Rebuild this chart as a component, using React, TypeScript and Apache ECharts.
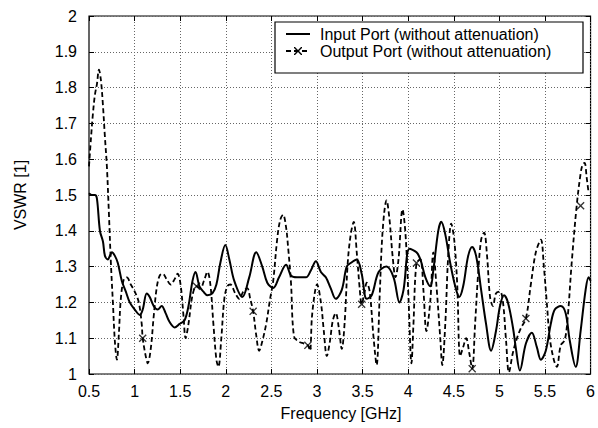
import React, { useEffect, useRef } from "react";
import * as echarts from "echarts";

// Frequency (GHz) / VSWR readings
const inputFreq = [0.5, 0.533, 0.565, 0.587, 0.62, 0.653, 0.675, 0.707, 0.729, 0.751, 0.784, 0.816, 0.86, 0.904, 0.947, 1.002, 1.057, 1.089, 1.133, 1.166, 1.209, 1.253, 1.297, 1.34, 1.384, 1.439, 1.493, 1.548, 1.591, 1.635, 1.668, 1.711, 1.755, 1.799, 1.853, 1.897, 1.94, 1.995, 2.039, 2.093, 2.181, 2.257, 2.334, 2.4, 2.455, 2.52, 2.584, 2.661, 2.715, 2.781, 2.879, 2.934, 2.988, 3.043, 3.097, 3.15, 3.206, 3.272, 3.326, 3.37, 3.436, 3.49, 3.545, 3.6, 3.676, 3.763, 3.84, 3.905, 3.949, 4.015, 4.091, 4.134, 4.189, 4.243, 4.276, 4.33, 4.363, 4.407, 4.461, 4.516, 4.56, 4.603, 4.658, 4.702, 4.745, 4.8, 4.854, 4.909, 4.963, 5.007, 5.051, 5.094, 5.149, 5.182, 5.225, 5.291, 5.356, 5.411, 5.455, 5.509, 5.564, 5.608, 5.673, 5.727, 5.771, 5.837, 5.891, 5.946, 5.979, 6.0];
const inputVswr = [1.505, 1.5, 1.5, 1.49, 1.4, 1.37, 1.33, 1.32, 1.33, 1.34, 1.33, 1.31, 1.26, 1.23, 1.2, 1.18, 1.165, 1.18, 1.225, 1.215, 1.19, 1.18, 1.19, 1.17, 1.145, 1.13, 1.14, 1.15, 1.19, 1.26, 1.285, 1.245, 1.23, 1.22, 1.225, 1.25, 1.31, 1.36, 1.32, 1.26, 1.215, 1.27, 1.34, 1.3, 1.255, 1.24, 1.27, 1.305, 1.275, 1.27, 1.27, 1.29, 1.315, 1.285, 1.27, 1.24, 1.21, 1.235, 1.3, 1.31, 1.32, 1.28, 1.21, 1.22, 1.285, 1.3, 1.27, 1.2, 1.235, 1.35, 1.34, 1.32, 1.27, 1.245, 1.29, 1.4, 1.425, 1.39, 1.31, 1.245, 1.215, 1.245, 1.33, 1.355, 1.33, 1.235, 1.14, 1.065, 1.12, 1.19, 1.22, 1.2, 1.13, 1.07, 1.01, 1.085, 1.115, 1.075, 1.04, 1.065, 1.14, 1.18, 1.19, 1.17, 1.095, 1.02, 1.12, 1.235, 1.27, 1.26];

const outputFreq = [0.5, 0.522, 0.544, 0.565, 0.587, 0.609, 0.631, 0.653, 0.675, 0.696, 0.718, 0.74, 0.762, 0.784, 0.806, 0.827, 0.849, 0.882, 0.915, 0.958, 1.002, 1.046, 1.078, 1.089, 1.122, 1.144, 1.177, 1.209, 1.242, 1.275, 1.308, 1.351, 1.395, 1.439, 1.471, 1.504, 1.537, 1.559, 1.591, 1.635, 1.679, 1.722, 1.766, 1.799, 1.831, 1.864, 1.897, 1.919, 1.951, 1.984, 2.017, 2.05, 2.104, 2.148, 2.191, 2.235, 2.268, 2.3, 2.333, 2.366, 2.399, 2.443, 2.486, 2.52, 2.563, 2.596, 2.628, 2.661, 2.683, 2.715, 2.748, 2.803, 2.857, 2.9, 2.923, 2.945, 2.978, 3.0, 3.043, 3.075, 3.108, 3.141, 3.174, 3.206, 3.239, 3.272, 3.305, 3.337, 3.37, 3.403, 3.436, 3.468, 3.49, 3.523, 3.545, 3.578, 3.621, 3.654, 3.687, 3.72, 3.763, 3.796, 3.829, 3.861, 3.894, 3.938, 3.971, 4.004, 4.036, 4.058, 4.091, 4.134, 4.167, 4.2, 4.243, 4.276, 4.309, 4.352, 4.374, 4.407, 4.439, 4.472, 4.505, 4.538, 4.57, 4.603, 4.636, 4.669, 4.702, 4.734, 4.767, 4.8, 4.833, 4.865, 4.898, 4.93, 4.963, 5.007, 5.04, 5.073, 5.105, 5.149, 5.193, 5.24, 5.291, 5.345, 5.4, 5.455, 5.488, 5.52, 5.553, 5.597, 5.63, 5.673, 5.717, 5.75, 5.793, 5.848, 5.891, 5.913, 5.935, 5.957, 5.979, 6.0];
const outputVswr = [1.58, 1.66, 1.73, 1.78, 1.81, 1.85, 1.82, 1.75, 1.66, 1.58, 1.45, 1.31, 1.2, 1.09, 1.04, 1.11, 1.21, 1.265, 1.27, 1.25, 1.23, 1.2, 1.14, 1.1, 1.05, 1.03, 1.07, 1.16, 1.24, 1.275, 1.28, 1.265, 1.25, 1.265, 1.28, 1.25, 1.16, 1.1, 1.14, 1.22, 1.245, 1.24, 1.265, 1.285, 1.25, 1.14, 1.04, 1.02, 1.1, 1.21, 1.245, 1.25, 1.225, 1.21, 1.23, 1.24, 1.21, 1.175, 1.11, 1.065, 1.09, 1.14, 1.21, 1.26, 1.375, 1.43, 1.445, 1.41, 1.355, 1.255, 1.105, 1.09, 1.085, 1.08, 1.065, 1.16, 1.23, 1.25, 1.2, 1.12, 1.05, 1.09, 1.15, 1.17, 1.13, 1.07, 1.15, 1.31, 1.39, 1.425, 1.34, 1.24, 1.195, 1.23, 1.255, 1.23, 1.1, 1.025, 1.215, 1.4, 1.485, 1.43, 1.33, 1.27, 1.32, 1.46, 1.39, 1.21, 1.03, 1.14, 1.31, 1.32, 1.235, 1.12, 1.205, 1.34, 1.25, 1.1, 1.025, 1.14, 1.33, 1.42, 1.375, 1.25, 1.05, 1.075, 1.1, 1.06, 1.015, 1.14, 1.28, 1.375, 1.395, 1.33, 1.215, 1.19, 1.225, 1.23, 1.2, 1.095, 1.005, 1.06, 1.1, 1.13, 1.155, 1.25, 1.34, 1.375, 1.3, 1.2, 1.1, 1.04, 1.02, 1.08, 1.095, 1.16, 1.31, 1.47, 1.56, 1.585, 1.59, 1.55, 1.505];

const outputMarkFreq = [1.089, 1.679, 2.3, 2.9, 3.49, 4.091, 4.702, 5.291, 5.891];
const outputMarkVswr = [1.1, 1.245, 1.175, 1.08, 1.195, 1.31, 1.015, 1.155, 1.47];

const seriesNames = ["Input Port (without attenuation)", "Output Port (without attenuation)"];
const xTitle = "Frequency [GHz]";
const yTitle = "VSWR [1]";

const FONT = "'Liberation Sans', Arial, Helvetica, sans-serif";
const X_MARK = "path://M0,1.2L1.2,0L5,3.8L8.8,0L10,1.2L6.2,5L10,8.8L8.8,10L5,6.2L1.2,10L0,8.8L3.8,5Z";

export default function App() {
  const ref = useRef<HTMLDivElement>(null);
  useEffect(() => {
    if (!ref.current) return;
    const chart = echarts.init(ref.current, null, { renderer: "svg" });
    const zip = (a: number[], b: number[]) => a.map((v, i) => [v, b[i]]);
    const gridLines = { show: true, lineStyle: { type: [1, 2] as any, color: "#666", width: 1 } };
    const ticks = { show: true, inside: true, length: 5, lineStyle: { color: "#000", width: 1 } };
    chart.setOption({
      animation: false,
      backgroundColor: "#fff",
      grid: { left: 89, top: 16, right: 5, bottom: 54, show: true, borderColor: "#000", borderWidth: 1.2, backgroundColor: "transparent" },
      xAxis: [
        {
          type: "value", min: 0.5, max: 6, interval: 0.5, position: "bottom",
          axisLine: { show: false }, axisTick: ticks, splitLine: gridLines,
          axisLabel: { color: "#000", fontSize: 16, fontFamily: FONT, margin: 9 },
        },
        {
          type: "value", min: 0.5, max: 6, interval: 0.5, position: "top",
          axisLine: { show: false }, axisTick: ticks, splitLine: { show: false }, axisLabel: { show: false },
        },
      ],
      yAxis: [
        {
          type: "value", min: 1, max: 2, interval: 0.1, position: "left",
          axisLine: { show: false }, axisTick: ticks, splitLine: gridLines,
          axisLabel: { color: "#000", fontSize: 16, fontFamily: FONT, margin: 12 },
        },
        {
          type: "value", min: 1, max: 2, interval: 0.1, position: "right",
          axisLine: { show: false }, axisTick: ticks, splitLine: { show: false }, axisLabel: { show: false },
        },
      ],
      series: [
        {
          name: seriesNames[0], type: "line", data: zip(inputFreq, inputVswr),
          showSymbol: false, smooth: 0.35, lineStyle: { color: "#000", width: 2 }, z: 3,
        },
        {
          name: seriesNames[1], type: "line", data: zip(outputFreq, outputVswr),
          showSymbol: false, smooth: 0.35, lineStyle: { color: "#000", width: 1.8, type: [5, 3] as any }, z: 2,
        },
        {
          type: "scatter", data: zip(outputMarkFreq, outputMarkVswr), symbol: X_MARK, symbolSize: 8,
          itemStyle: { color: "#000" }, z: 4,
        },
      ],
      graphic: [
        { type: "rect", shape: { x: 275, y: 22, width: 308, height: 51 }, style: { fill: "#fff", stroke: "#000", lineWidth: 1.2 }, z: 10 },
        { type: "line", shape: { x1: 286, y1: 34, x2: 310, y2: 34 }, style: { stroke: "#000", lineWidth: 2 }, z: 11 },
        { type: "text", x: 320, y: 34, style: { text: seriesNames[0], fontSize: 16, fontFamily: FONT, fill: "#000", verticalAlign: "middle" }, z: 11 },
        { type: "line", shape: { x1: 286, y1: 51, x2: 310, y2: 51 }, style: { stroke: "#000", lineWidth: 1.8, lineDash: [5, 3] }, z: 11 },
        { type: "polygon", shape: { points: [[294, 47], [295, 47], [298, 50], [301, 47], [302, 47], [302, 48], [299, 51], [302, 54], [302, 55], [301, 55], [298, 52], [295, 55], [294, 55], [294, 54], [297, 51], [294, 48]] }, style: { fill: "#000" }, z: 11 },
        { type: "text", x: 320, y: 51, style: { text: seriesNames[1], fontSize: 16, fontFamily: FONT, fill: "#000", verticalAlign: "middle" }, z: 11 },
        { type: "text", x: 341, y: 413, style: { text: xTitle, fontSize: 16, fontFamily: FONT, fill: "#000", align: "center", verticalAlign: "middle" } },
        { type: "text", x: 20, y: 195, rotation: Math.PI / 2, style: { text: yTitle, fontSize: 16, fontFamily: FONT, fill: "#000", align: "center", verticalAlign: "middle" } },
      ],
    });
    return () => chart.dispose();
  }, []);
  return <div ref={ref} style={{ position: "absolute", left: 0, top: 0, width: 598, height: 428 }} />;
}
